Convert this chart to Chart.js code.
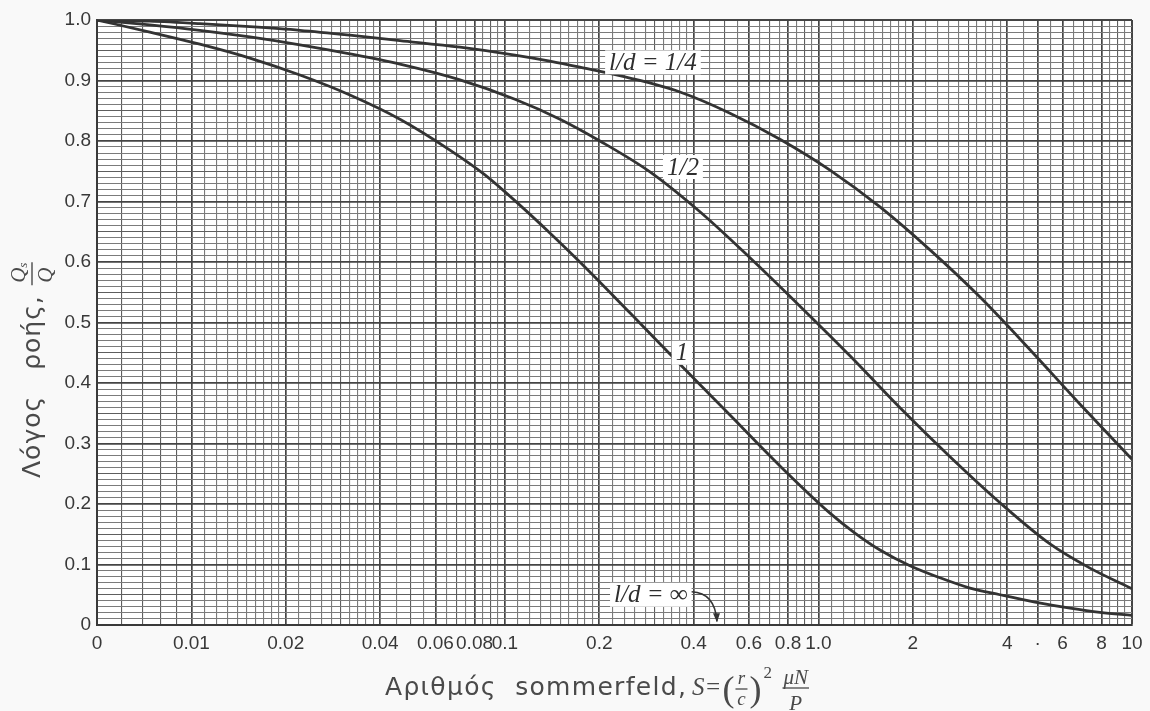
<!DOCTYPE html>
<html>
<head>
<meta charset="utf-8">
<script src="https://cdn.jsdelivr.net/npm/chart.js@4.4.0/dist/chart.umd.min.js"></script>
<style>
  html, body { margin: 0; padding: 0; background: #f9f9f9; }
  #wrap { width: 1150px; height: 711px; }
</style>
</head>
<body>
<div id="wrap"><canvas id="grafico" width="1150" height="711"></canvas></div>
<script>
// Λόγος ροής Qs/Q ως προς τον αριθμό Sommerfeld (log άξονας)
const S_ZERO = 0.005; // εκεί που γράφει "0" ο άξονας

// l/d = 1/4
const sQuarter = [S_ZERO, 0.00737, 0.01064, 0.01537, 0.02219, 0.03203, 0.04625, 0.0719, 0.1076, 0.1391, 0.1734, 0.2504, 0.3615, 0.5221, 0.7536, 1.088, 1.571, 2.268, 3.275, 4.728, 6.827, 10];
const ratioQuarter = [1.0, 0.998, 0.994, 0.989, 0.983, 0.975, 0.966, 0.955, 0.942, 0.932, 0.922, 0.904, 0.881, 0.846, 0.803, 0.752, 0.691, 0.620, 0.542, 0.455, 0.365, 0.274];

// l/d = 1/2
const sHalf = [S_ZERO, 0.00737, 0.01064, 0.01537, 0.02219, 0.03203, 0.04625, 0.0719, 0.1076, 0.1498, 0.2009, 0.2901, 0.4188, 0.6046, 0.873, 1.26, 1.82, 2.627, 3.793, 5.475, 7.345, 10];
const ratioHalf = [1.0, 0.992, 0.983, 0.972, 0.959, 0.944, 0.927, 0.901, 0.869, 0.836, 0.800, 0.749, 0.683, 0.607, 0.527, 0.445, 0.359, 0.278, 0.202, 0.134, 0.094, 0.060];

// l/d = 1
const sOne = [S_ZERO, 0.00737, 0.01064, 0.01537, 0.02219, 0.03203, 0.04625, 0.06677, 0.08635, 0.1116, 0.1391, 0.1734, 0.2504, 0.3615, 0.5221, 0.7536, 1.088, 1.307, 1.571, 1.958, 2.441, 3.043, 3.793, 4.905, 6.342, 7.906, 10];
const ratioOne = [1.0, 0.980, 0.960, 0.937, 0.909, 0.876, 0.836, 0.785, 0.744, 0.694, 0.648, 0.600, 0.516, 0.431, 0.347, 0.263, 0.185, 0.152, 0.124, 0.098, 0.078, 0.061, 0.050, 0.038, 0.028, 0.021, 0.016];

// ετικέτες αξόνων
const xLabelValues = [S_ZERO, 0.01, 0.02, 0.04, 0.06, 0.08, 0.1, 0.2, 0.4, 0.6, 0.8, 1, 2, 4, 5, 6, 8, 10];
const xLabelTexts = ['0', '0.01', '0.02', '0.04', '0.06', '0.08', '0.1', '0.2', '0.4', '0.6', '0.8', '1.0', '2', '4', '·', '6', '8', '10'];
const yLabelValues = [0, 0.1, 0.2, 0.3, 0.4, 0.5, 0.6, 0.7, 0.8, 0.9, 1.0];
const yLabelTexts = ['0', '0.1', '0.2', '0.3', '0.4', '0.5', '0.6', '0.7', '0.8', '0.9', '1.0'];

// ετικέτες καμπυλών (σε τιμές S, Qs/Q)
const curveLabels = [
  { text: 'l/d = 1/4', s: 0.2966, q: 0.93 },
  { text: '1/2', s: 0.3696, q: 0.757 },
  { text: '1', s: 0.3669, q: 0.45 },
  { text: 'l/d = ∞', s: 0.292, q: 0.05, arrowTo: { s: 0.4746, q: 0.006 } }
];

// πυκνό πλέγμα όπως στο λογαριθμικό χαρτί
const gridX = [S_ZERO];
for (let k = 6; k <= 9; k++) gridX.push(k / 1000);
[0.01, 0.1, 1].forEach(d => {
  for (let i = 10; i < 20; i++) gridX.push(+(d * i / 10).toPrecision(6));
  for (let i = 10; i < 20; i++) gridX.push(+(d * i / 5).toPrecision(6));
  for (let i = 8; i < 20; i++) gridX.push(+(d * i / 2).toPrecision(6));
});
gridX.push(10);

const gridY = [];
for (let i = 0; i <= 100; i++) gridY.push(i / 100);

const near = (a, b) => Math.abs(a - b) <= Math.abs(b) * 1e-6 + 1e-9;
const xLabelIndex = v => xLabelValues.findIndex(l => near(v, l));
const yLabelIndex = v => yLabelValues.findIndex(l => near(v, l));

const toPoints = (xs, ys) => xs.map((s, i) => ({ x: s, y: ys[i] }));

const tickFont = { family: "'Liberation Sans Narrow', 'Liberation Sans', sans-serif", size: 19 };

const fundo = {
  id: 'fundo',
  beforeDraw(chart) {
    const { ctx, chartArea: a } = chart;
    ctx.save();
    ctx.fillStyle = '#f9f9f9';
    ctx.fillRect(0, 0, chart.width, chart.height);
    ctx.fillStyle = '#ffffff';
    ctx.fillRect(a.left, a.top, a.right - a.left, a.bottom - a.top);
    ctx.restore();
  }
};

const etiquetas = {
  id: 'etiquetas',
  afterDatasetsDraw(chart) {
    const { ctx, scales } = chart;
    ctx.save();
    ctx.font = "italic 25px 'Liberation Serif', serif";
    ctx.textAlign = 'center';
    ctx.textBaseline = 'middle';
    curveLabels.forEach(l => {
      const x = scales.x.getPixelForValue(l.s);
      const y = scales.y.getPixelForValue(l.q);
      const w = ctx.measureText(l.text).width;
      ctx.fillStyle = '#ffffff';
      ctx.fillRect(x - w / 2 - 4, y - 12, w + 8, 24);
      ctx.fillStyle = '#2e2e2e';
      ctx.fillText(l.text, x, y + 1);
      if (l.arrowTo) {
        const sx = x + w / 2 + 4;
        const tx = scales.x.getPixelForValue(l.arrowTo.s);
        const ty = scales.y.getPixelForValue(l.arrowTo.q);
        ctx.strokeStyle = '#333333';
        ctx.lineWidth = 1.6;
        ctx.beginPath();
        ctx.moveTo(sx, y - 3);
        ctx.quadraticCurveTo(tx - 2, y - 2, tx, ty);
        ctx.stroke();
        ctx.beginPath();
        ctx.moveTo(tx, ty + 1);
        ctx.lineTo(tx - 4, ty - 8);
        ctx.lineTo(tx + 3, ty - 8);
        ctx.closePath();
        ctx.fillStyle = '#333333';
        ctx.fill();
      }
    });
    ctx.restore();
  },
  afterDraw(chart) {
    const ctx = chart.ctx;
    ctx.save();
    ctx.fillStyle = '#4a4a4a';
    ctx.strokeStyle = '#4a4a4a';

    // τίτλος άξονα x
    let x = 385;
    const base = 695;
    ctx.textBaseline = 'alphabetic';
    ctx.textAlign = 'left';
    ctx.font = "25px 'DejaVu Sans', sans-serif";
    ctx.letterSpacing = '1.3px';
    ctx.fillText('Αριθμός  sommerfeld,', x, base);
    x += ctx.measureText('Αριθμός  sommerfeld,').width + 5;
    ctx.letterSpacing = '0px';
    ctx.font = "italic 25px 'Liberation Serif', serif";
    ctx.fillText('S=', x, base);
    x += ctx.measureText('S=').width + 1;
    ctx.font = "36px 'Liberation Serif', serif";
    ctx.fillText('(', x, base + 6);
    x += ctx.measureText('(').width;
    ctx.font = "italic 19px 'Liberation Serif', serif";
    ctx.textAlign = 'center';
    ctx.fillText('r', x + 7, base - 11);
    ctx.fillText('c', x + 7, base + 10);
    ctx.lineWidth = 1.3;
    ctx.beginPath(); ctx.moveTo(x + 1, base - 6); ctx.lineTo(x + 13, base - 6); ctx.stroke();
    x += 15;
    ctx.textAlign = 'left';
    ctx.font = "36px 'Liberation Serif', serif";
    ctx.fillText(')', x, base + 6);
    x += ctx.measureText(')').width + 2;
    ctx.font = "17px 'Liberation Serif', serif";
    ctx.fillText('2', x, base - 17);
    x += 20;
    ctx.font = "italic 21px 'Liberation Serif', serif";
    const num = 'μN';
    const wn = ctx.measureText(num).width;
    ctx.fillText(num, x, base - 11);
    ctx.textAlign = 'center';
    ctx.fillText('P', x + wn / 2, base + 15);
    ctx.beginPath(); ctx.moveTo(x - 1, base - 7); ctx.lineTo(x + wn + 1, base - 7); ctx.stroke();

    // τίτλος άξονα y (περιστραμμένος)
    ctx.translate(33, 478);
    ctx.rotate(-Math.PI / 2);
    ctx.textAlign = 'left';
    ctx.textBaseline = 'middle';
    ctx.font = "25px 'DejaVu Sans', sans-serif";
    ctx.letterSpacing = '1px';
    ctx.fillText('Λόγος', 0, 0);
    const w1 = ctx.measureText('Λόγος').width;
    ctx.fillText('ροής,', w1 + 26, 0);
    const fu = w1 + 26 + ctx.measureText('ροής,').width + 20;
    ctx.letterSpacing = '0px';
    ctx.font = "italic 21px 'Liberation Serif', serif";
    ctx.textAlign = 'center';
    ctx.fillText('Q', fu, -14);
    ctx.font = "italic 13px 'Liberation Serif', serif";
    ctx.fillText('s', fu + 10, -9);
    ctx.font = "italic 21px 'Liberation Serif', serif";
    ctx.fillText('Q', fu, 13);
    ctx.lineWidth = 1.4;
    ctx.beginPath(); ctx.moveTo(fu - 10, -1); ctx.lineTo(fu + 13, -1); ctx.stroke();
    ctx.restore();
  }
};

const curveStyle = {
  borderColor: '#333333',
  borderWidth: 2.8,
  pointRadius: 0,
  fill: false,
  cubicInterpolationMode: 'monotone'
};

const chart = new Chart(document.getElementById('grafico'), {
  type: 'line',
  data: {
    datasets: [
      { label: 'l/d = 1/4', data: toPoints(sQuarter, ratioQuarter), ...curveStyle },
      { label: 'l/d = 1/2', data: toPoints(sHalf, ratioHalf), ...curveStyle },
      { label: 'l/d = 1', data: toPoints(sOne, ratioOne), ...curveStyle }
    ]
  },
  options: {
    responsive: false,
    animation: false,
    devicePixelRatio: 1,
    layout: { padding: { top: 20, right: 18, left: 0, bottom: 0 } },
    plugins: { legend: { display: false }, tooltip: { enabled: false } },
    scales: {
      x: {
        type: 'logarithmic',
        min: S_ZERO,
        max: 10,
        afterBuildTicks: scale => { scale.ticks = gridX.map(v => ({ value: v })); },
        afterFit: scale => { scale.height = 86; },
        ticks: {
          autoSkip: false,
          maxRotation: 0,
          minRotation: 0,
          padding: 7,
          color: '#383838',
          font: tickFont,
          callback: v => {
            const i = xLabelIndex(v);
            return i >= 0 ? xLabelTexts[i] : '';
          }
        },
        grid: {
          drawTicks: false,
          color: c => {
            const v = c.tick.value;
            if (xLabelIndex(v) >= 0 || near(v, 10)) return '#454545';
            const m = v / Math.pow(10, Math.floor(Math.log10(v) + 1e-9));
            return near(m, Math.round(m)) ? '#5e5e5e' : '#7b7b7b';
          },
          lineWidth: c => {
            const v = c.tick.value;
            if (near(v, 10)) return 2;
            return xLabelIndex(v) >= 0 ? 1.7 : 1.1;
          }
        },
        border: { color: '#3a3a3a', width: 2 }
      },
      y: {
        type: 'linear',
        min: 0,
        max: 1,
        afterBuildTicks: scale => { scale.ticks = gridY.map(v => ({ value: v })); },
        afterFit: scale => { scale.width = 97; },
        ticks: {
          autoSkip: false,
          padding: 6,
          color: '#383838',
          font: tickFont,
          callback: v => {
            const i = yLabelIndex(v);
            return i >= 0 ? yLabelTexts[i] : '';
          }
        },
        grid: {
          drawTicks: false,
          color: c => {
            const v = Math.round(c.tick.value * 100);
            if (v % 10 === 0) return '#454545';
            if (v % 5 === 0) return '#5e5e5e';
            return '#7b7b7b';
          },
          lineWidth: c => {
            const v = Math.round(c.tick.value * 100);
            if (v === 100) return 2;
            return v % 10 === 0 ? 1.7 : 1.1;
          }
        },
        border: { color: '#3a3a3a', width: 2 }
      }
    }
  },
  plugins: [fundo, etiquetas]
});
</script>
</body>
</html>
